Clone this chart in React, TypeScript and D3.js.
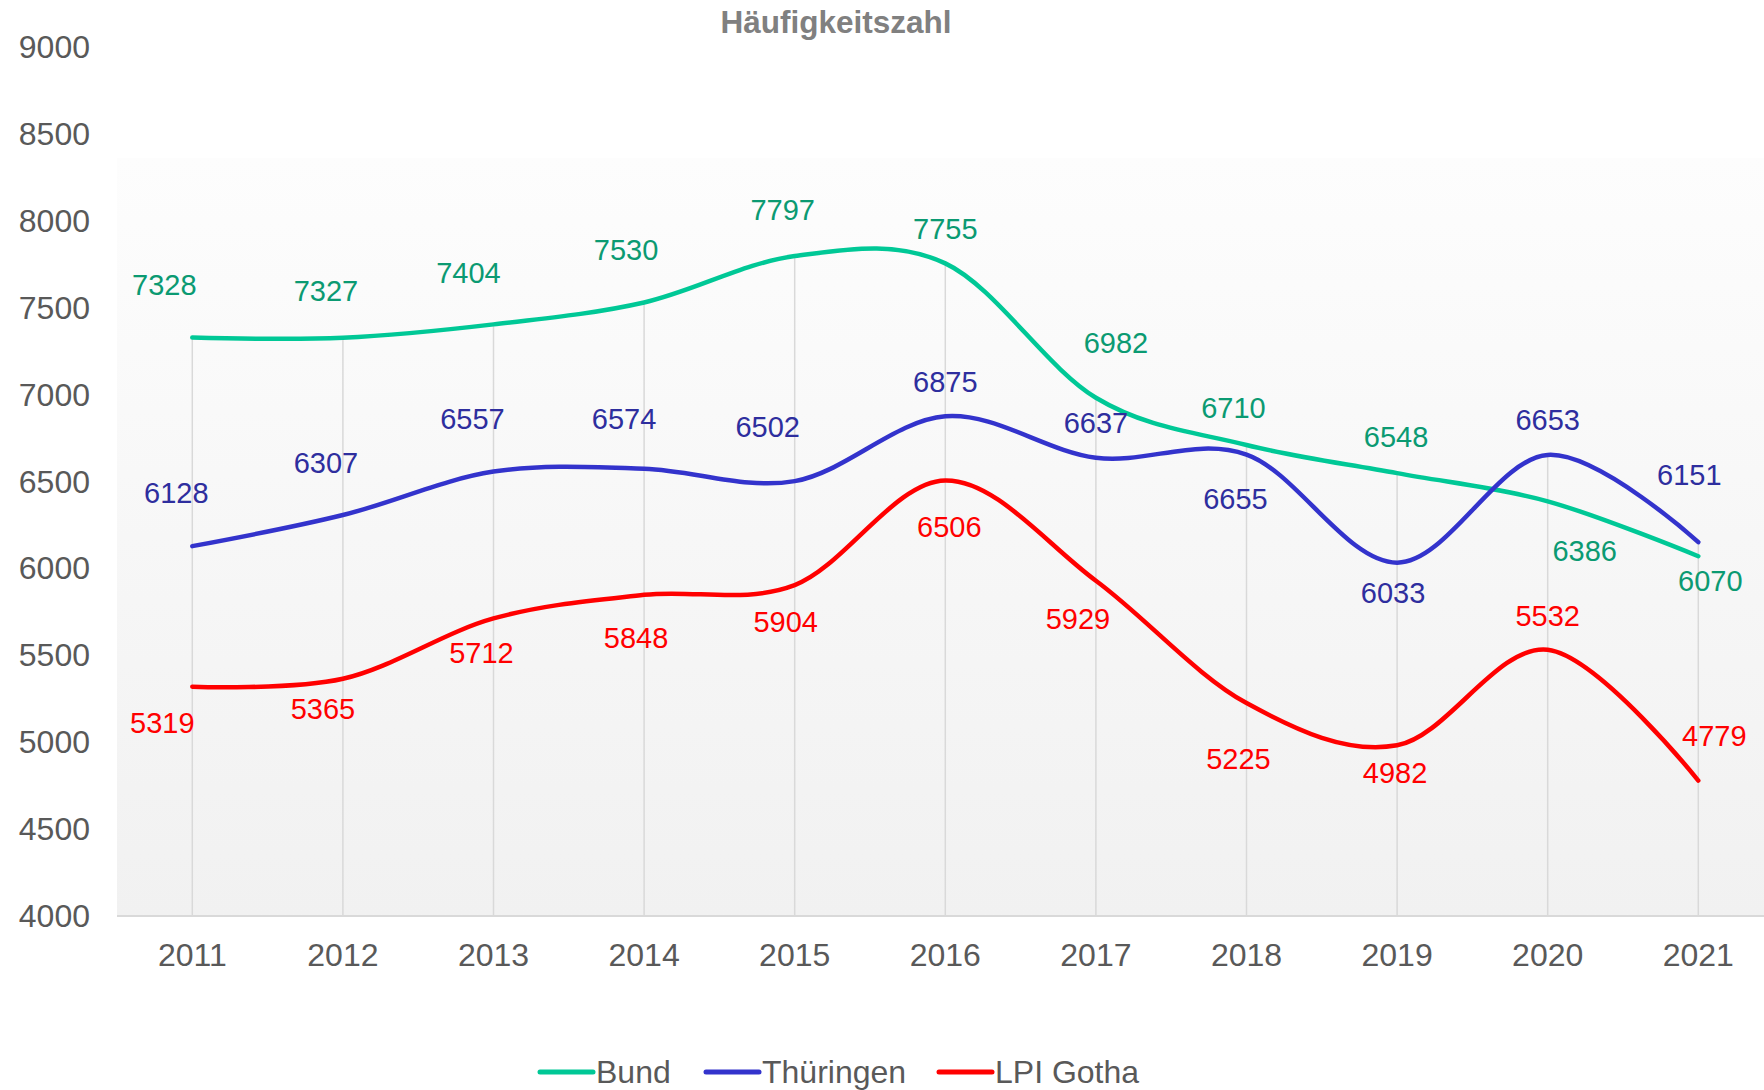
import React from "react";
import * as d3 from "d3";

const years = ["2011", "2012", "2013", "2014", "2015", "2016", "2017", "2018", "2019", "2020", "2021"];
const bund = [7328, 7327, 7404, 7530, 7797, 7755, 6982, 6710, 6548, 6386, 6070];
const thueringen = [6128, 6307, 6557, 6574, 6502, 6875, 6637, 6655, 6033, 6653, 6151];
const gotha = [5319, 5365, 5712, 5848, 5904, 6506, 5929, 5225, 4982, 5532, 4779];
const yTicks = [4000, 4500, 5000, 5500, 6000, 6500, 7000, 7500, 8000, 8500, 9000];

// label offsets (px) relative to each point, as placed in the original chart
const bundOffsets = [[-28, -53], [-17, -47], [-25, -51], [-18, -52], [-12, -46], [0, -34], [20, -55], [-13, -37], [-1, -36], [37, 50], [12, 25]];
const thuerOffsets = [[-16, -53], [-17, -52], [-21, -53], [-20, -50], [-27, -54], [0, -34], [0, -35], [-11, 44], [-4, 30], [0, -35], [-9, -67]];
const gothaOffsets = [[-30, 36], [-20, 30], [-12, 35], [-8, 43], [-9, 37], [4, 47], [-18, 38], [-8, 56], [-2, 28], [0, -34], [16, -45]];

const W = 1764;
const H = 1090;
const font = "'Liberation Sans', Arial, sans-serif";

export default function App() {
  const x = d3.scaleBand().domain(years).range([117, 117 + 150.6 * 11]);
  const y = d3.scaleLinear().domain([4000, 9000]).range([916, 47]);
  const cx = (yr: string) => (x(yr) as number) + x.bandwidth() / 2;

  const line = d3
    .line<number>()
    .x((_, i) => cx(years[i]))
    .y((d) => y(d))
    .curve(d3.curveCatmullRom.alpha(0));

  const series = [
    { name: "Bund", values: bund, color: "#00c896", labelColor: "#0b9a72", offsets: bundOffsets },
    { name: "Thüringen", values: thueringen, color: "#3333cc", labelColor: "#2e2e9e", offsets: thuerOffsets },
    { name: "LPI Gotha", values: gotha, color: "#ff0000", labelColor: "#ff0000", offsets: gothaOffsets },
  ];

  const legendPos = [540, 706, 939];

  return (
    <svg
      width={W}
      height={H}
      style={{ position: "absolute", left: 0, top: 0, display: "block", background: "#fff" }}
      fontFamily={font}
    >
      <defs>
        <linearGradient id="plotBg" x1="0" y1="0" x2="0" y2="1">
          <stop offset="0%" stopColor="#fdfdfd" />
          <stop offset="100%" stopColor="#f1f1f1" />
        </linearGradient>
      </defs>

      <rect x={117} y={158} width={W - 117} height={916 - 158} fill="url(#plotBg)" />

      <text x={836} y={22} textAnchor="middle" dominantBaseline="central" fontSize={31.5} fontWeight="bold" fill="#808080">
        Häufigkeitszahl
      </text>

      {/* drop lines */}
      {years.map((yr, i) => (
        <line
          key={yr}
          x1={cx(yr)}
          x2={cx(yr)}
          y1={y(Math.max(bund[i], thueringen[i], gotha[i]))}
          y2={916}
          stroke="#d9d9d9"
          strokeWidth={1.5}
        />
      ))}

      <line x1={117} x2={W} y1={916} y2={916} stroke="#d9d9d9" strokeWidth={2} />

      {yTicks.map((t) => (
        <text key={t} x={90} y={y(t)} textAnchor="end" dominantBaseline="central" fontSize={32} fill="#595959">
          {t}
        </text>
      ))}

      {years.map((yr) => (
        <text key={yr} x={cx(yr)} y={955} textAnchor="middle" dominantBaseline="central" fontSize={32} fill="#595959">
          {yr}
        </text>
      ))}

      {series.map((s) => (
        <path key={s.name} d={line(s.values) || ""} fill="none" stroke={s.color} strokeWidth={4.5} strokeLinecap="round" />
      ))}

      {series.map((s) =>
        s.values.map((v, i) => (
          <text
            key={s.name + i}
            x={cx(years[i]) + s.offsets[i][0]}
            y={y(v) + s.offsets[i][1]}
            textAnchor="middle"
            dominantBaseline="central"
            fontSize={29}
            fill={s.labelColor}
          >
            {v}
          </text>
        ))
      )}

      {series.map((s, i) => (
        <g key={s.name} transform={`translate(${legendPos[i]},1072)`}>
          <line x1={0} x2={53} y1={0} y2={0} stroke={s.color} strokeWidth={5} strokeLinecap="round" />
          <text x={56} y={0} dominantBaseline="central" fontSize={32} fill="#595959">
            {s.name}
          </text>
        </g>
      ))}
    </svg>
  );
}
